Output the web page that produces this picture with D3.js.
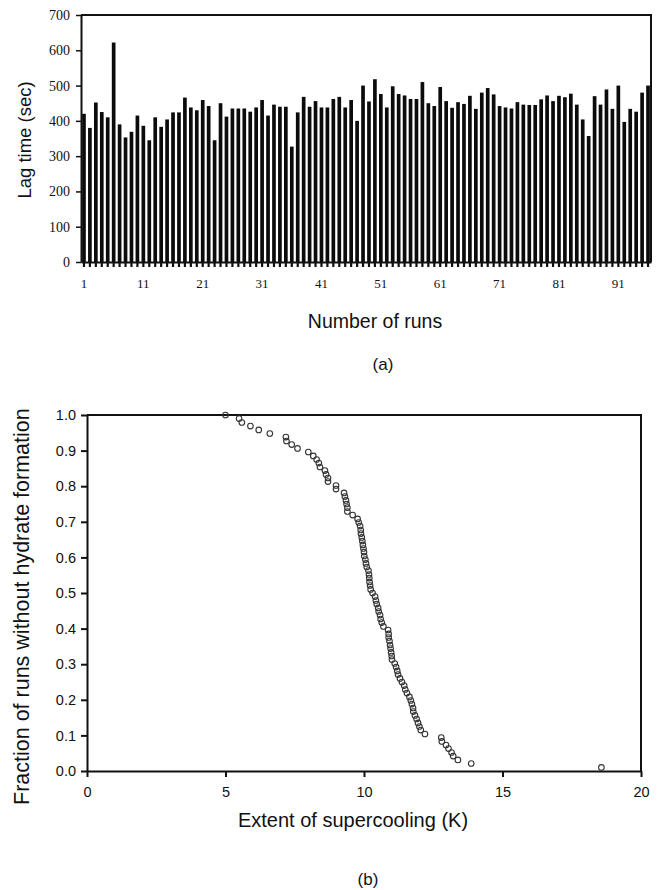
<!DOCTYPE html>
<html>
<head>
<meta charset="utf-8">
<script src="https://cdn.jsdelivr.net/npm/d3@7"></script>
<style>
  body { margin: 0; background: #fff; }
  svg { display: block; }
  text { font-family: "Liberation Sans", Arial, sans-serif; fill: #111; }
  .serif text { font-family: "Liberation Serif", "Times New Roman", serif; }
</style>
</head>
<body>
<svg id="chart" width="660" height="890"></svg>
<script>
// (a) lag time per run
const lagTime = [
  420, 380, 452, 425, 410, 622, 390, 353, 369, 415,
  386, 345, 410, 383, 404, 424, 424, 466, 438, 430,
  459, 442, 345, 450, 412, 435, 435, 435, 426, 438,
  459, 415, 446, 440, 440, 327, 424, 468, 440, 456,
  438, 438, 462, 468, 438, 459, 400, 500, 455, 518,
  476, 438, 498, 476, 472, 462, 462, 510, 450, 442,
  496, 456, 437, 453, 448, 471, 434, 480, 493, 475,
  442, 438, 435, 453, 446, 445, 445, 461, 472, 456,
  471, 467, 477, 446, 404, 357, 470, 446, 489, 434,
  500, 397, 434, 426, 480, 500
]
const runs = lagTime.map((d, i) => i + 1)
const runTicks = [1, 11, 21, 31, 41, 51, 61, 71, 81, 91]
const lagTicks = [0, 100, 200, 300, 400, 500, 600, 700]

// (b) survival curve
const supercooling = [
  5.00, 5.49, 5.59, 5.90, 6.20, 6.60, 7.18, 7.20, 7.39, 7.60,
  7.99, 8.17, 8.29, 8.37, 8.41, 8.59, 8.63, 8.70, 8.70, 8.99,
  8.99, 9.28, 9.31, 9.35, 9.37, 9.40, 9.40, 9.59, 9.77, 9.81,
  9.86, 9.88, 9.89, 9.92, 9.94, 9.96, 9.98, 10.00, 10.01, 10.05,
  10.07, 10.10, 10.16, 10.18, 10.19, 10.20, 10.22, 10.24, 10.31, 10.40,
  10.43, 10.46, 10.51, 10.53, 10.58, 10.60, 10.64, 10.70, 10.87, 10.89,
  10.89, 10.92, 10.94, 10.96, 10.98, 11.00, 11.01, 11.11, 11.16, 11.20,
  11.23, 11.30, 11.37, 11.45, 11.49, 11.55, 11.64, 11.69, 11.73, 11.77,
  11.78, 11.84, 11.90, 11.95, 12.00, 12.05, 12.20, 12.79, 12.81, 12.96,
  13.05, 13.16, 13.22, 13.39, 13.87, 18.57
]
const fraction = [
  1.000, 0.990, 0.979, 0.969, 0.958, 0.948, 0.938, 0.927, 0.917, 0.906,
  0.896, 0.885, 0.875, 0.865, 0.854, 0.844, 0.833, 0.823, 0.813, 0.802,
  0.792, 0.781, 0.771, 0.760, 0.750, 0.740, 0.729, 0.719, 0.708, 0.698,
  0.688, 0.677, 0.667, 0.656, 0.646, 0.635, 0.625, 0.615, 0.604, 0.594,
  0.583, 0.573, 0.563, 0.552, 0.542, 0.531, 0.521, 0.510, 0.500, 0.490,
  0.479, 0.469, 0.458, 0.448, 0.438, 0.427, 0.417, 0.406, 0.396, 0.385,
  0.375, 0.365, 0.354, 0.344, 0.333, 0.323, 0.313, 0.302, 0.292, 0.281,
  0.271, 0.260, 0.250, 0.240, 0.229, 0.219, 0.208, 0.198, 0.188, 0.177,
  0.167, 0.156, 0.146, 0.135, 0.125, 0.115, 0.104, 0.094, 0.083, 0.073,
  0.063, 0.052, 0.042, 0.031, 0.021, 0.010
]
const fractionTicks = [0, 0.1, 0.2, 0.3, 0.4, 0.5, 0.6, 0.7, 0.8, 0.9, 1.0]
const supercoolingTicks = [0, 5, 10, 15, 20]

const svg = d3.select('#chart')

// ---- (a) bar chart
const a = { left: 81, right: 651, top: 15, bottom: 262 }

const x1 = d3.scaleBand()
  .domain(runs)
  .range([a.left, a.right])
  .paddingInner(0.38)
  .paddingOuter(0.19)
const y1 = d3.scaleLinear()
  .domain([0, 700])
  .range([a.bottom, a.top])

const barChart = svg.append('g').classed('chart-a', true)

barChart.selectAll('rect.bar').data(lagTime)
  .enter().append('rect')
    .classed('bar', true)
    .attr('x', (d, i) => x1(runs[i]))
    .attr('width', x1.bandwidth())
    .attr('y', d => y1(d))
    .attr('height', d => a.bottom - y1(d))
    .attr('fill', '#0b0b0b')

// frame (top, right)
barChart.append('path')
  .attr('d', `M${a.left},${a.top}H${a.right}V${a.bottom}`)
  .attr('fill', 'none')
  .attr('stroke', '#111')
  .attr('stroke-width', 2)

const xAxis1 = d3.axisBottom(x1)
  .tickValues(runs)
  .tickSize(5)
  .tickSizeOuter(0)
  .tickPadding(12)
  .tickFormat(d => runTicks.includes(d) ? d : '')
barChart.append('g')
  .classed('x axis serif', true)
  .attr('transform', `translate(0, ${a.bottom})`)
  .call(xAxis1)

const yAxis1 = d3.axisLeft(y1)
  .tickValues(lagTicks)
  .tickSize(5)
  .tickSizeOuter(0)
  .tickPadding(6)
barChart.append('g')
  .classed('y axis serif', true)
  .attr('transform', `translate(${a.left}, 0)`)
  .call(yAxis1)

barChart.selectAll('.x.axis text')
  .attr('font-size', 13)
barChart.selectAll('.y.axis text')
  .attr('font-size', 14)
barChart.selectAll('.axis .domain')
  .attr('stroke', '#111')
  .attr('stroke-width', 2)
barChart.selectAll('.x.axis .tick line')
  .attr('stroke', '#111')
  .attr('stroke-width', 2.2)
barChart.selectAll('.y.axis .tick line')
  .attr('stroke', '#111')
  .attr('stroke-width', 1.5)

barChart.append('text')
  .attr('x', 375)
  .attr('y', 328)
  .attr('text-anchor', 'middle')
  .attr('font-size', 19.5)
  .text('Number of runs')

barChart.append('text')
  .attr('transform', 'translate(31, 140) rotate(-90)')
  .attr('text-anchor', 'middle')
  .attr('font-size', 18.5)
  .text('Lag time (sec)')

barChart.append('text')
  .attr('x', 383)
  .attr('y', 370)
  .attr('text-anchor', 'middle')
  .attr('font-size', 17)
  .text('(a)')

// ---- (b) scatter
const b = { left: 87, right: 641, top: 415, bottom: 771 }

const x2 = d3.scaleLinear()
  .domain([0, 20])
  .range([b.left, b.right])
const y2 = d3.scaleLinear()
  .domain([0, 1])
  .range([b.bottom, b.top])

const scatter = svg.append('g').classed('chart-b', true)

scatter.append('path')
  .attr('d', `M${b.left},${b.top}H${b.right}V${b.bottom}`)
  .attr('fill', 'none')
  .attr('stroke', '#111')
  .attr('stroke-width', 2)

const xAxis2 = d3.axisBottom(x2)
  .tickValues(supercoolingTicks)
  .tickSize(6)
  .tickSizeOuter(0)
  .tickPadding(10)
scatter.append('g')
  .classed('x axis', true)
  .attr('transform', `translate(0, ${b.bottom})`)
  .call(xAxis2)

const yAxis2 = d3.axisLeft(y2)
  .tickValues(fractionTicks)
  .tickSize(6)
  .tickSizeOuter(0)
  .tickPadding(5)
  .tickFormat(d3.format('.1f'))
scatter.append('g')
  .classed('y axis', true)
  .attr('transform', `translate(${b.left}, 0)`)
  .call(yAxis2)

scatter.selectAll('.axis text')
  .attr('font-size', 14.5)
  .attr('fill', '#222')
scatter.selectAll('.axis .domain')
  .attr('stroke', '#111')
  .attr('stroke-width', 2)
scatter.selectAll('.axis .tick line')
  .attr('stroke', '#111')
  .attr('stroke-width', 2)

scatter.selectAll('circle.point').data(supercooling)
  .enter().append('circle')
    .classed('point', true)
    .attr('cx', d => x2(d))
    .attr('cy', (d, i) => y2(fraction[i]))
    .attr('r', 2.8)
    .attr('fill', 'none')
    .attr('stroke', '#333')
    .attr('stroke-width', 1.1)

scatter.append('text')
  .attr('x', 353)
  .attr('y', 827)
  .attr('text-anchor', 'middle')
  .attr('font-size', 20)
  .text('Extent of supercooling (K)')

scatter.append('text')
  .attr('transform', 'translate(29, 805) rotate(-90)')
  .attr('text-anchor', 'start')
  .attr('font-size', 21.5)
  .text('Fraction of runs without hydrate formation')

scatter.append('text')
  .attr('x', 368)
  .attr('y', 885)
  .attr('text-anchor', 'middle')
  .attr('font-size', 17)
  .text('(b)')
</script>
</body>
</html>
